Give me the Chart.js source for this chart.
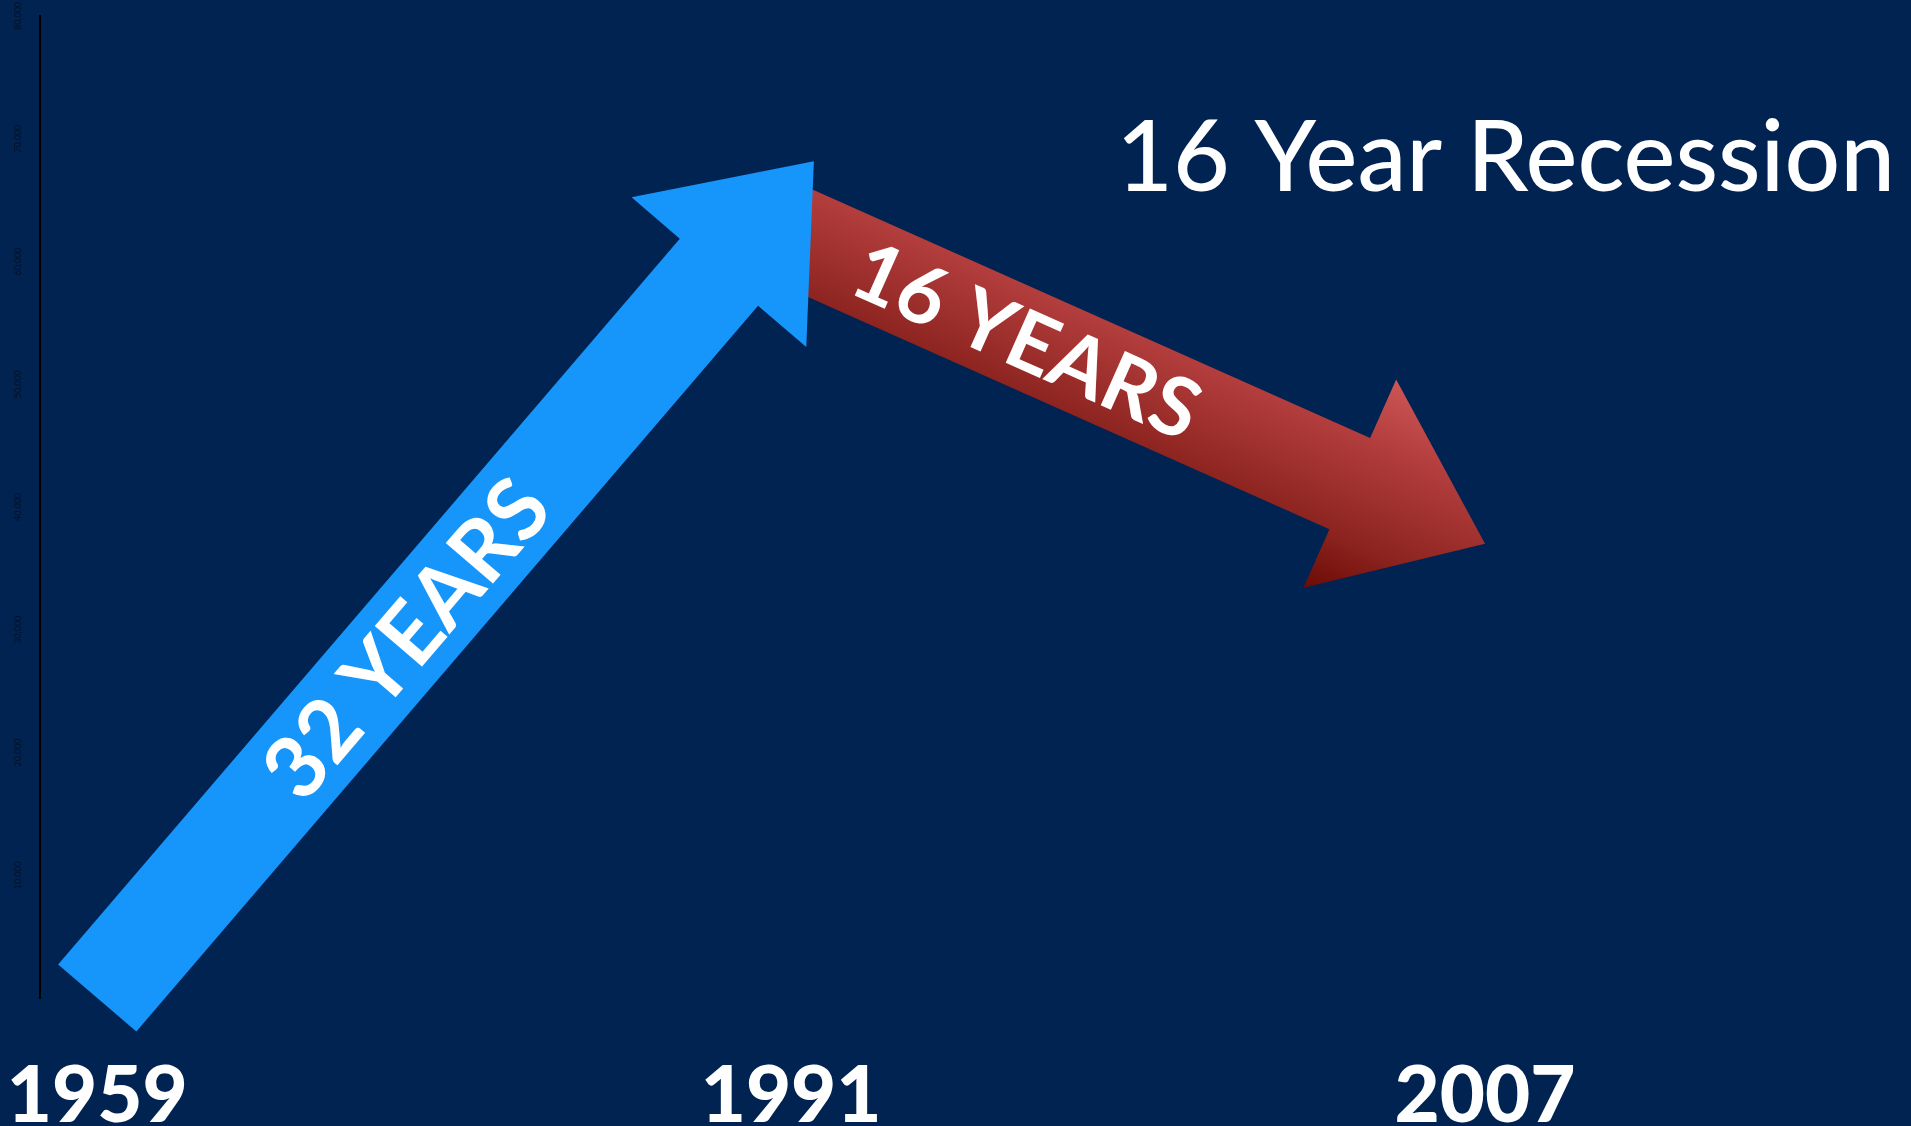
<!DOCTYPE html>
<html>
<head>
<meta charset="utf-8">
<title>16 Year Recession</title>
<script src="https://cdn.jsdelivr.net/npm/chart.js@4.4.0/dist/chart.umd.min.js"></script>
<style>
  html, body { margin: 0; padding: 0; background: #002352; }
  #wrap { width: 1911px; height: 1126px; position: relative; }
</style>
</head>
<body>
<div id="wrap"><canvas id="chart"></canvas></div>
<script>
// data
const years = ['1959', '1991', '2007'];
const values = [0, 66000, 37000];
const arrowLabels = ['32 YEARS', '16 YEARS'];
const yTicks = [0, 10000, 20000, 30000, 40000, 50000, 60000, 70000, 80000];
const chartTitle = '16 Year Recession';

const blue = '#1696fa';

// builds the outline of a block arrow from tail to tip
function arrowPath(ctx, tail, tip, shaftW, headW, headL, cutVertical) {
    const dx = tip.x - tail.x, dy = tip.y - tail.y;
    const len = Math.hypot(dx, dy);
    const ux = dx / len, uy = dy / len;
    const nx = -uy, ny = ux;
    const s = shaftW / 2, h = headW / 2;
    const bx = tip.x - ux * headL, by = tip.y - uy * headL;
    let t1, t2;
    if (cutVertical) {
        t1 = { x: tail.x, y: tail.y + s / ux };
        t2 = { x: tail.x, y: tail.y - s / ux };
    } else {
        t1 = { x: tail.x + nx * s, y: tail.y + ny * s };
        t2 = { x: tail.x - nx * s, y: tail.y - ny * s };
    }
    ctx.beginPath();
    ctx.moveTo(t1.x, t1.y);
    ctx.lineTo(bx + nx * s, by + ny * s);
    ctx.lineTo(bx + nx * h, by + ny * h);
    ctx.lineTo(tip.x, tip.y);
    ctx.lineTo(bx - nx * h, by - ny * h);
    ctx.lineTo(bx - nx * s, by - ny * s);
    ctx.lineTo(t2.x, t2.y);
    ctx.closePath();
    return { ux, uy, nx, ny, bx, by };
}

function alongText(ctx, text, a, b, frac, size) {
    const cx = a.x + (b.x - a.x) * frac;
    const cy = a.y + (b.y - a.y) * frac;
    const ang = Math.atan2(b.y - a.y, b.x - a.x);
    ctx.save();
    ctx.translate(cx, cy);
    ctx.rotate(ang);
    ctx.font = 'bold ' + size + 'px Lato';
    ctx.fillStyle = '#ffffff';
    ctx.textAlign = 'center';
    ctx.textBaseline = 'alphabetic';
    ctx.fillText(text, 0, size * 0.36);
    ctx.restore();
}

const arrowPlugin = {
    id: 'arrows',
    afterDatasetsDraw(chart) {
        const ctx = chart.ctx;
        const pts = chart.getDatasetMeta(0).data;
        const p0 = { x: pts[0].x, y: pts[0].y };
        const p1 = { x: pts[1].x, y: pts[1].y };
        const p2 = { x: pts[2].x, y: pts[2].y };

        // blue tip pokes a little past the peak point
        const bl = Math.hypot(p1.x - p0.x, p1.y - p0.y);
        const blueTip = { x: p1.x + (p1.x - p0.x) / bl * 35, y: p1.y + (p1.y - p0.y) / bl * 35 };
        const redStart = { x: p1.x, y: p1.y + 47 };

        ctx.save();
        // red arrow (behind)
        const g = arrowPath(ctx, redStart, p2, 100, 228, 148, true);
        const grad = ctx.createLinearGradient(
            g.bx - g.nx * 114, g.by - g.ny * 114,
            g.bx + g.nx * 114, g.by + g.ny * 114);
        grad.addColorStop(0, '#cc5656');
        grad.addColorStop(0.28, '#b33e3d');
        grad.addColorStop(0.72, '#8d2420');
        grad.addColorStop(1, '#6c0b05');
        ctx.fillStyle = grad;
        ctx.fill();
        alongText(ctx, arrowLabels[1], redStart, p2, 0.34, 82);

        // blue arrow
        arrowPath(ctx, p0, blueTip, 103, 230, 146, false);
        ctx.fillStyle = blue;
        ctx.fill();
        alongText(ctx, arrowLabels[0], p0, blueTip, 0.43, 86);

        // title
        ctx.font = '500 98px Lato';
        ctx.fillStyle = '#ffffff';
        ctx.textAlign = 'right';
        ctx.textBaseline = 'alphabetic';
        ctx.fillText(chartTitle, 1895, 191);
        ctx.restore();
    }
};

const chart = new Chart(document.getElementById('chart'), {
    type: 'line',
    data: {
        datasets: [{
            data: values.map((v, i) => ({ x: i, y: v })),
            showLine: false,
            pointRadius: 0,
            pointHoverRadius: 0
        }]
    },
    options: {
        responsive: true,
        maintainAspectRatio: false,
        animation: false,
        layout: { padding: { left: 0, top: 16, right: 426, bottom: 0 } },
        plugins: {
            legend: { display: false },
            tooltip: { enabled: false }
        },
        scales: {
            x: {
                type: 'linear',
                min: -0.0825,
                max: years.length - 1,
                afterBuildTicks: s => { s.ticks = years.map((_, i) => ({ value: i })); },
                afterFit: s => { s.height = 128; },
                grid: { display: false, drawTicks: true, tickLength: 49 },
                border: { display: false },
                ticks: {
                    color: '#ffffff',
                    padding: 3,
                    maxRotation: 0,
                    autoSkip: false,
                    font: { family: 'Lato', size: 78, weight: 900 },
                    callback: v => years[v]
                }
            },
            y: {
                min: 0,
                max: 80000,
                afterBuildTicks: s => { s.ticks = yTicks.map(v => ({ value: v })); },
                afterFit: s => { s.width = 40; },
                grid: { display: false, drawTicks: false },
                border: { display: true, color: '#000000', width: 2 },
                ticks: {
                    minRotation: 90,
                    maxRotation: 90,
                    crossAlign: 'center',
                    padding: 8,
                    color: 'rgba(0,0,0,0.55)',
                    font: { family: 'Lato', size: 9 },
                    callback: v => v === 0 ? '' : v.toLocaleString('en-US')
                }
            }
        }
    },
    plugins: [arrowPlugin]
});
</script>
</body>
</html>
